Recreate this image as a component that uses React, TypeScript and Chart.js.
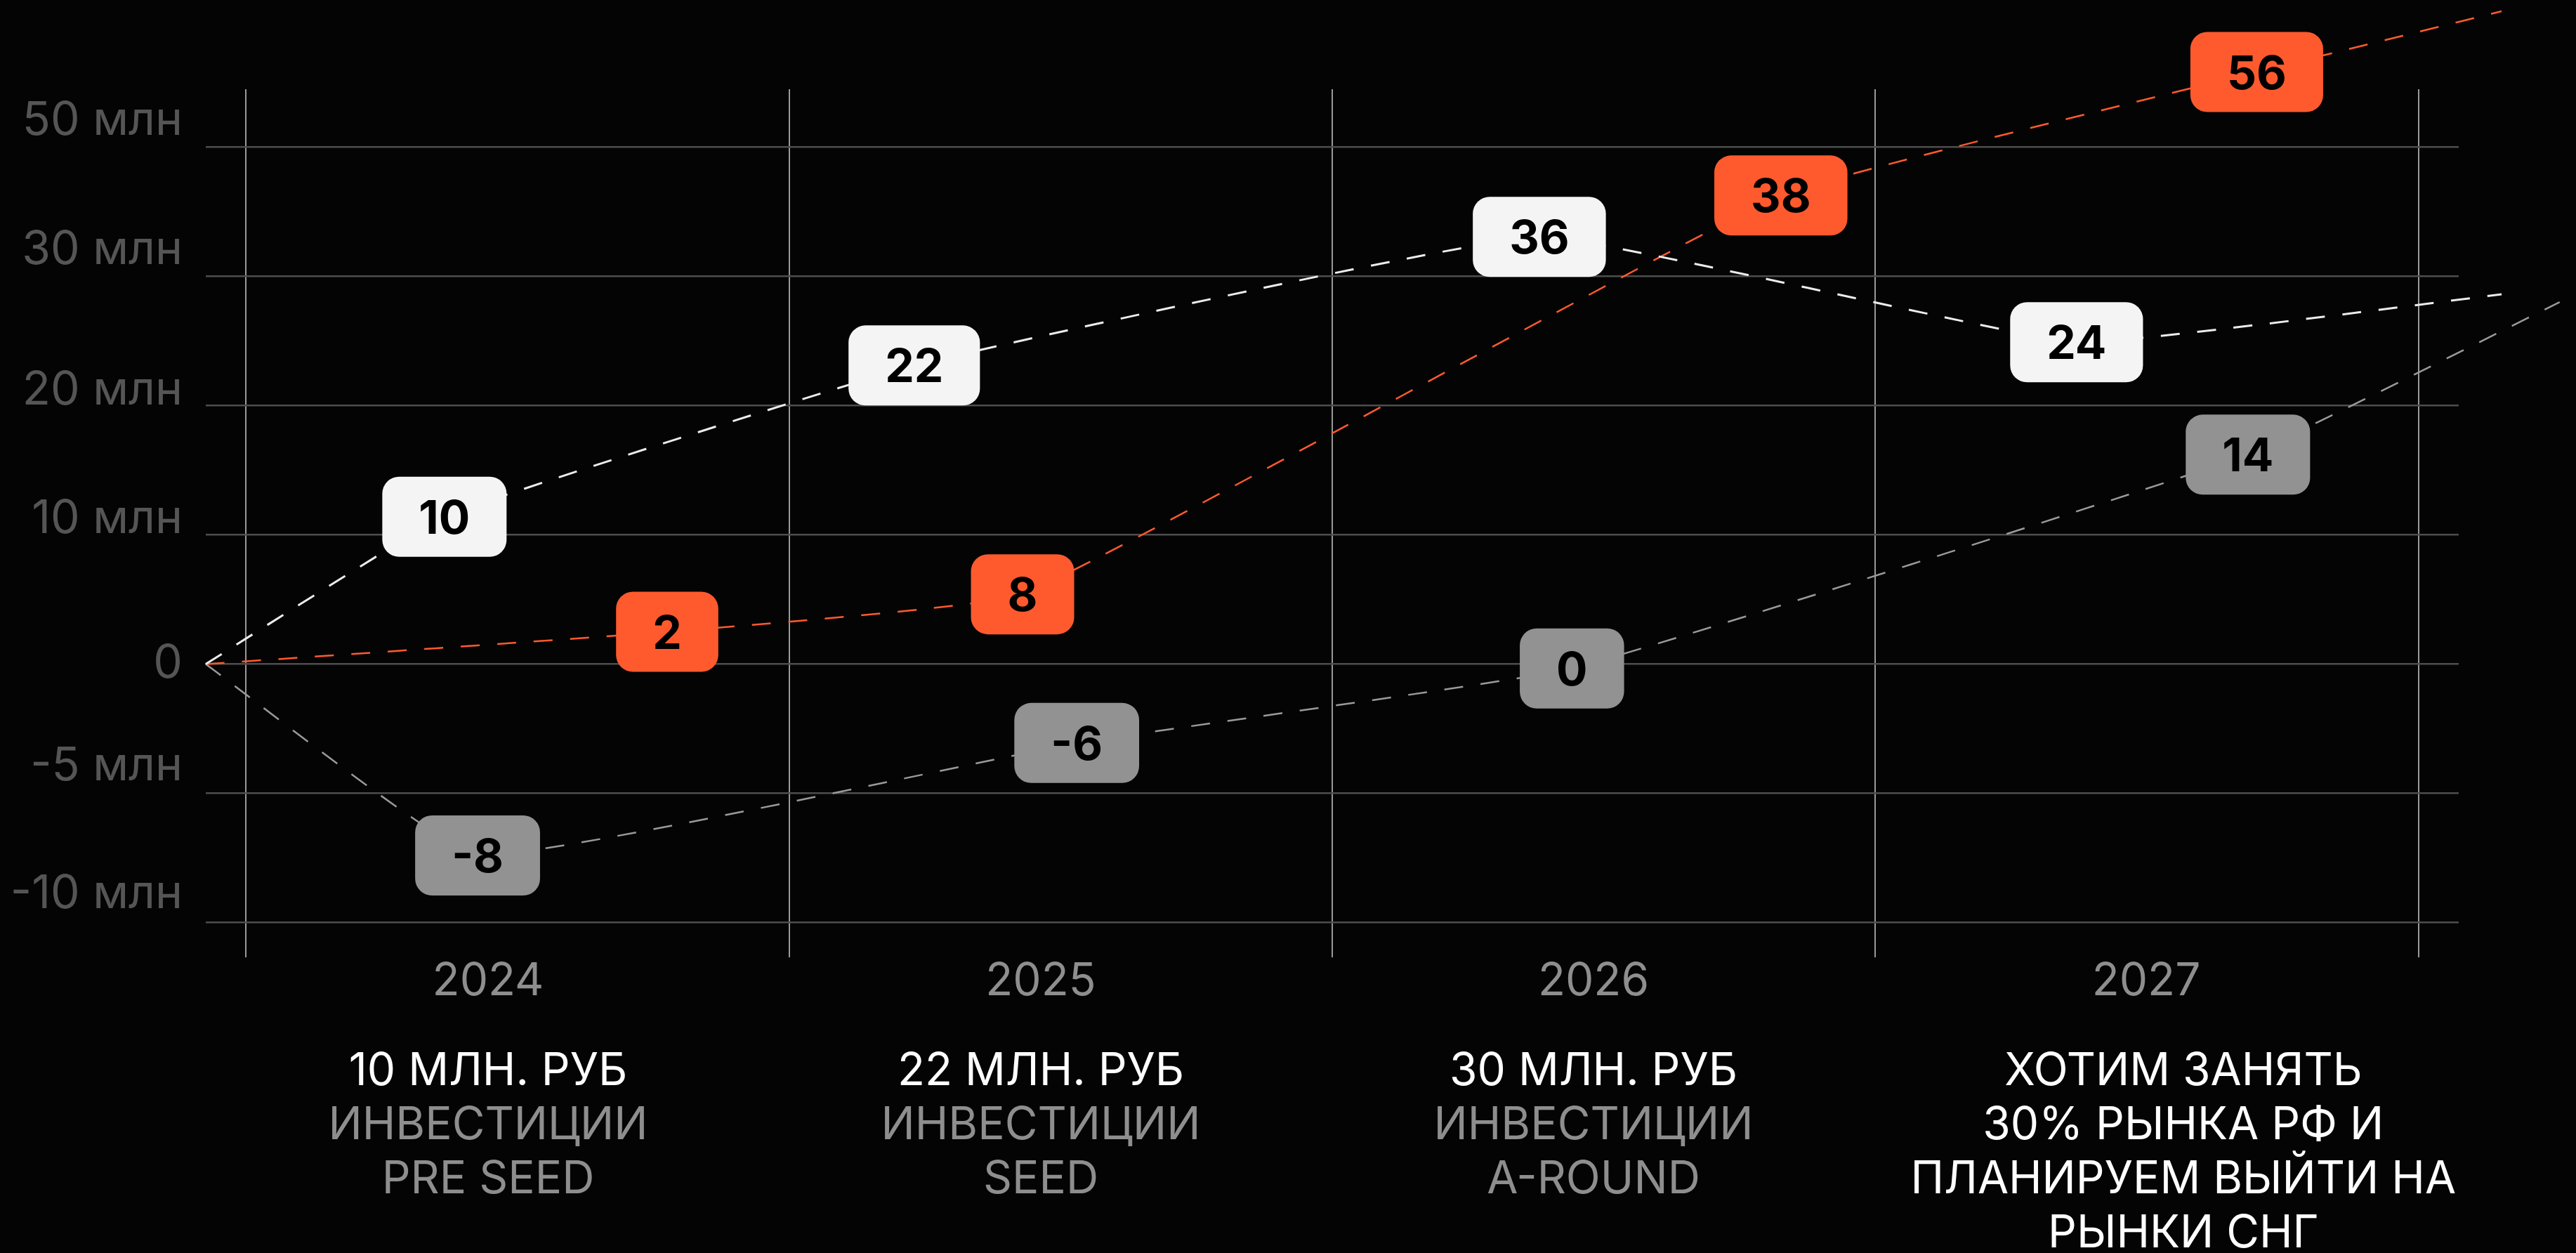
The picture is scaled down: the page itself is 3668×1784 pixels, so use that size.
import React, { useEffect, useRef } from 'react';
import { Chart, LinearScale, registerables } from 'chart.js';

// ---------------- data ----------------
const YEARS = [2024, 2025, 2026, 2027];
const NOTE_HEAD = ['10 МЛН. РУБ', '22 МЛН. РУБ', '30 МЛН. РУБ', 'ХОТИМ ЗАНЯТЬ'];
const NOTE_BODY = [
  ['ИНВЕСТИЦИИ', 'PRE SEED'],
  ['ИНВЕСТИЦИИ', 'SEED'],
  ['ИНВЕСТИЦИИ', 'A-ROUND'],
  ['30% РЫНКА РФ И', 'ПЛАНИРУЕМ ВЫЙТИ НА', 'РЫНКИ СНГ'],
];
const Y_TICKS = [-10, -5, 0, 10, 20, 30, 50];
const Y_TICK_LABELS = ['-10 млн', '-5 млн', '0', '10 млн', '20 млн', '30 млн', '50 млн'];

// series: x in years, y in млн (as plotted on the axis), label text on each point
const WHITE_X = [2023.489, 2023.921, 2024.771, 2025.902, 2026.874, 2027.643];
const WHITE_Y = [0, 11.4, 23.1, 36.1, 24.9, 28.6];
const WHITE_LABELS = ['', '10', '22', '36', '24', ''];

const ORANGE_X = [2023.489, 2024.324, 2024.967, 2026.339, 2027.2, 2027.643];
const ORANGE_Y = [0, 2.5, 5.4, 42.5, 61.6, 71];
const ORANGE_LABELS = ['', '2', '8', '38', '56', ''];

const GRAY_X = [2023.489, 2023.981, 2025.065, 2025.961, 2027.184, 2027.748];
const GRAY_Y = [0, -7.4, -3.05, -0.17, 16.2, 28.0];
const GRAY_LABELS = ['', '-8', '-6', '0', '14', ''];

// ---------------- styles / layout ----------------
const BG = '#040404';
const FONT = 'Inter, "Noto Sans", "DejaVu Sans", sans-serif';
const H_GRID = '#4d4d4d';
const V_GRID = '#9a9a9a';
const Y_LABEL_COLOR = '#555555';
const SUB_COLOR = '#8e8e8e';
const X_MIN = 2023.4892;
const X_MAX = 2027.5654;
const Y_MIN = -11.34;
const Y_MAX = 58.94;
const NOTE_SHIFT = [0, 0, 0, 0.067];
const Y_LABEL_LIFT = [41, 38, 0, 22, 21, 37, 37];
const GRID_STEPS = [0, 1, 2, 3, 4];

const SERIES = [
  { x: WHITE_X, y: WHITE_Y, labels: WHITE_LABELS, line: '#ececec', box: '#f4f4f4', width: 3 },
  { x: GRAY_X, y: GRAY_Y, labels: GRAY_LABELS, line: '#9a9a9a', box: '#929292', width: 2.5 },
  { x: ORANGE_X, y: ORANGE_Y, labels: ORANGE_LABELS, line: '#ff5a2e', box: '#ff5a2e', width: 2.5 },
];

function toIdx(v: number): number {
  const t = Y_TICKS;
  const n = t.length;
  let i = 0;
  if (v >= t[n - 2]) i = n - 2;
  else {
    for (let k = 0; k < n - 1; k++) {
      if (v >= t[k] && v < t[k + 1]) { i = k; break; }
    }
  }
  return i + (v - t[i]) / (t[i + 1] - t[i]);
}
function fromIdx(k: number): number {
  const t = Y_TICKS;
  const n = t.length;
  const i = Math.max(0, Math.min(n - 2, Math.floor(k)));
  return t[i] + (k - i) * (t[i + 1] - t[i]);
}

class PiecewiseScale extends LinearScale {
  static id = 'piecewise';
  static defaults = {};
  determineDataLimits() {
    const o: any = this.options;
    this.min = o.min;
    this.max = o.max;
  }
  buildTicks() {
    return Y_TICKS.map((v) => ({ value: v }));
  }
  configure() {
    super.configure();
    (this as any)._startValue = toIdx(this.min);
    (this as any)._endValue = toIdx(this.max);
    (this as any)._valueRange = toIdx(this.max) - toIdx(this.min);
  }
  getPixelForValue(value: any) {
    if (value === null || value === undefined || isNaN(value)) return NaN;
    const s: any = this;
    return this.getPixelForDecimal((toIdx(value) - s._startValue) / s._valueRange);
  }
  getValueForPixel(pixel: number) {
    const s: any = this;
    return fromIdx(s._startValue + this.getDecimalForPixel(pixel) * s._valueRange);
  }
}

class PiecewiseLabelScale extends PiecewiseScale {
  static id = 'piecewiseLabels';
  static defaults = {};
  getPixelForTick(index: number) {
    return super.getPixelForTick(index) - (Y_LABEL_LIFT[index] || 0);
  }
}

Chart.register(...registerables, PiecewiseScale, PiecewiseLabelScale);

const bgPlugin = {
  id: 'bg',
  beforeDraw(chart: any) {
    const c = chart.ctx;
    c.save();
    c.fillStyle = BG;
    c.fillRect(0, 0, chart.width, chart.height);
    c.restore();
  },
};

const boxLabelsPlugin = {
  id: 'boxLabels',
  afterDatasetsDraw(chart: any) {
    const c: CanvasRenderingContext2D = chart.ctx;
    c.save();
    c.font = `bold 66px ${FONT}`;
    c.textAlign = 'center';
    c.textBaseline = 'alphabetic';
    SERIES.forEach((s, di) => {
      const meta = chart.getDatasetMeta(di);
      meta.data.forEach((el: any, i: number) => {
        const text = s.labels[i];
        if (!text) return;
        const w = c.measureText(text).width + 104;
        const h = 114;
        const x = el.x - w / 2;
        const y = el.y - h / 2;
        c.fillStyle = s.box;
        c.beginPath();
        (c as any).roundRect(x, y, w, h, 24);
        c.fill();
        c.fillStyle = '#000000';
        c.fillText(text, el.x, el.y + 24);
      });
    });
    c.restore();
  },
};

export default function App() {
  const ref = useRef<HTMLCanvasElement>(null);
  useEffect(() => {
    document.body.style.background = BG;
    const canvas = ref.current!;
    const xLabelAxis = (labels: any[], shift: number[], color: any, height: number, lh: number, weight: number) => ({
      type: 'linear',
      position: 'bottom',
      min: X_MIN,
      max: X_MAX,
      weight,
      afterBuildTicks: (s: any) => {
        s.ticks = YEARS.map((v, i) => ({ value: v + shift[i] }));
      },
      afterFit: (s: any) => {
        s.height = height;
      },
      ticks: {
        callback: (_v: any, i: number) => labels[i],
        color,
        font: { family: FONT, size: 64, lineHeight: lh },
        padding: 0,
        autoSkip: false,
        maxRotation: 0,
        minRotation: 0,
      },
      grid: { display: false, drawTicks: false },
      border: { display: false },
    });

    const chart = new Chart(canvas, {
      type: 'line',
      data: {
        datasets: SERIES.map((s) => ({
          data: s.x.map((x, i) => ({ x, y: s.y[i] })),
          borderColor: s.line,
          borderWidth: s.width,
          borderDash: [27, 25],
          pointRadius: 0,
          pointHoverRadius: 0,
          tension: 0.1,
          fill: false,
          clip: false,
          xAxisID: 'xYears',
          yAxisID: 'y',
        })) as any,
      },
      options: {
        animation: false,
        responsive: false,
        maintainAspectRatio: false,
        devicePixelRatio: 1,
        events: [],
        layout: { padding: { top: 127, right: 167, bottom: 0, left: 0 } },
        plugins: { legend: { display: false }, tooltip: { enabled: false }, title: { display: false } },
        scales: {
          xGrid: {
            type: 'linear',
            position: 'bottom',
            min: -0.0737,
            max: 4.0737,
            weight: 0,
            afterBuildTicks: (s: any) => {
              s.ticks = GRID_STEPS.map((v) => ({ value: v }));
            },
            afterFit: (s: any) => {
              s.height = 0;
            },
            ticks: { display: false },
            grid: { color: V_GRID, lineWidth: 2, drawTicks: false },
            border: { display: false },
          },
          xYears: xLabelAxis(YEARS.map(String), [0, 0, 0, 0], SUB_COLOR, 124.6, 1.1, 1),
          xHead: xLabelAxis(NOTE_HEAD, NOTE_SHIFT, '#ffffff', 76.8, 1.2, 2),
          xSub: xLabelAxis(NOTE_BODY, NOTE_SHIFT, (ctx: any) => (ctx.index === 3 ? '#ffffff' : SUB_COLOR), 219.6, 1.2, 3),
          y: {
            type: 'piecewise',
            position: 'left',
            min: Y_MIN,
            max: Y_MAX,
            afterFit: (s: any) => {
              s.width = 0;
            },
            ticks: { display: false },
            grid: { color: H_GRID, lineWidth: 2.5, drawTicks: false },
            border: { display: false },
          },
          yl: {
            type: 'piecewiseLabels',
            position: 'left',
            min: Y_MIN,
            max: Y_MAX,
            afterFit: (s: any) => {
              s.width = 293;
            },
            ticks: {
              callback: (_v: any, i: number) => Y_TICK_LABELS[i],
              color: Y_LABEL_COLOR,
              font: { family: FONT, size: 66 },
              padding: 33,
            },
            grid: { display: false, drawTicks: false },
            border: { display: false },
          },
        } as any,
      },
      plugins: [bgPlugin, boxLabelsPlugin],
    });
    return () => chart.destroy();
  }, []);

  return (
    <div style={{ position: 'fixed', left: 0, top: 0, width: 3668, height: 1784, background: BG, overflow: 'hidden' }}>
      <canvas ref={ref} width={3668} height={1784} style={{ display: 'block', width: 3668, height: 1784 }} />
    </div>
  );
}
